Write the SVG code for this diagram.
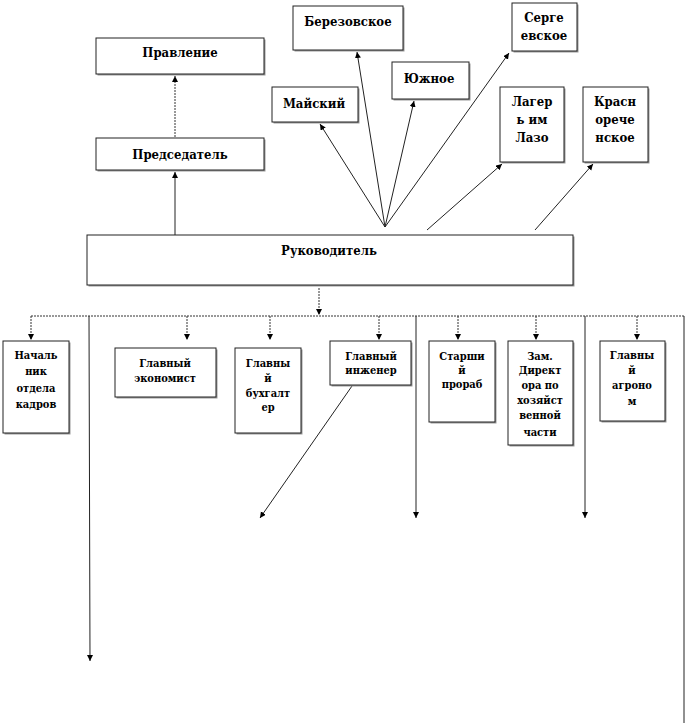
<svg xmlns="http://www.w3.org/2000/svg" width="685" height="723" viewBox="0 0 685 723">
<style>
.box{fill:#fff;stroke:#222;stroke-width:1}
.sh{fill:#9a9a9a}
text{font-family:"DejaVu Serif","Liberation Serif",serif;font-stretch:condensed;font-weight:bold;fill:#000;text-anchor:middle}
.tl{font-size:13px}
.ts{font-size:11px}
.ln{stroke:#222;stroke-width:1;fill:none}
.dt{stroke:#333;stroke-width:1;fill:none;stroke-dasharray:2 1}
</style>
<defs>
<marker id="ah" markerWidth="7" markerHeight="7" refX="6" refY="3" orient="auto" markerUnits="userSpaceOnUse">
<path d="M0,0 L6,3 L0,6 Z" fill="#000"/>
</marker>
</defs>
<rect width="685" height="723" fill="#fff"/>

<g id="connectors">
<line class="dt" x1="175" y1="137" x2="175" y2="76" marker-end="url(#ah)"/>
<line class="ln" x1="175" y1="235" x2="175" y2="172" marker-end="url(#ah)"/>
<line class="ln" x1="385" y1="227" x2="320" y2="124" marker-end="url(#ah)"/>
<line class="ln" x1="385" y1="227" x2="357" y2="52" marker-end="url(#ah)"/>
<line class="ln" x1="385" y1="227" x2="414" y2="101" marker-end="url(#ah)"/>
<line class="ln" x1="385" y1="227" x2="509" y2="53" marker-end="url(#ah)"/>
<line class="ln" x1="427" y1="230" x2="502" y2="164" marker-end="url(#ah)"/>
<line class="ln" x1="535" y1="230" x2="593" y2="164" marker-end="url(#ah)"/>
<line class="dt" x1="319" y1="288" x2="319" y2="315" marker-end="url(#ah)"/>
<line class="dt" x1="31" y1="316" x2="684" y2="316"/>
<line class="ln" x1="684" y1="316" x2="684" y2="723"/>
<line class="dt" x1="31" y1="316" x2="31" y2="340" marker-end="url(#ah)"/>
<line class="dt" x1="187" y1="316" x2="187" y2="340" marker-end="url(#ah)"/>
<line class="dt" x1="270" y1="316" x2="270" y2="340" marker-end="url(#ah)"/>
<line class="dt" x1="379" y1="316" x2="379" y2="340" marker-end="url(#ah)"/>
<line class="dt" x1="458" y1="316" x2="458" y2="340" marker-end="url(#ah)"/>
<line class="dt" x1="536" y1="316" x2="536" y2="340" marker-end="url(#ah)"/>
<line class="dt" x1="637" y1="316" x2="637" y2="340" marker-end="url(#ah)"/>
<line class="ln" x1="89" y1="316" x2="90" y2="661" marker-end="url(#ah)"/>
<line class="ln" x1="416" y1="316" x2="416" y2="518" marker-end="url(#ah)"/>
<line class="ln" x1="585" y1="316" x2="585" y2="518" marker-end="url(#ah)"/>
<line class="ln" x1="352" y1="386" x2="260" y2="518" marker-end="url(#ah)"/>
</g>

<g id="pravlenie">
<rect class="sh" x="97.5" y="39.5" width="168" height="36"/>
<rect class="box" x="96" y="38" width="168" height="36"/>
<text class="tl" x="180" y="57">Правление</text>
</g>
<g id="predsedatel">
<rect class="sh" x="97.5" y="139.5" width="168" height="32"/>
<rect class="box" x="96" y="138" width="168" height="32"/>
<text class="tl" x="180" y="159">Председатель</text>
</g>
<g id="berezovskoe">
<rect class="sh" x="294.5" y="7.5" width="110" height="44"/>
<rect class="box" x="293" y="6" width="110" height="44"/>
<text class="tl" x="348" y="26">Березовское</text>
</g>
<g id="maysky">
<rect class="sh" x="273.5" y="88.5" width="86" height="35"/>
<rect class="box" x="272" y="87" width="86" height="35"/>
<text class="tl" x="314" y="108">Майский</text>
</g>
<g id="yuzhnoe">
<rect class="sh" x="393.5" y="63.5" width="77" height="37"/>
<rect class="box" x="392" y="62" width="77" height="37"/>
<text class="tl" x="429" y="83">Южное</text>
</g>
<g id="sergeevskoe">
<rect class="sh" x="513.5" y="4.5" width="65" height="48"/>
<rect class="box" x="512" y="3" width="65" height="48"/>
<text class="tl" x="544" y="22">Серге</text>
<text class="tl" x="544" y="40">евское</text>
</g>
<g id="lager">
<rect class="sh" x="501.5" y="88.5" width="64" height="75"/>
<rect class="box" x="500" y="87" width="64" height="75"/>
<text class="tl" x="532" y="106">Лагер</text>
<text class="tl" x="532" y="124">ь им</text>
<text class="tl" x="532" y="142">Лазо</text>
</g>
<g id="krasnorecheskoe">
<rect class="sh" x="584.5" y="88.5" width="65" height="75"/>
<rect class="box" x="583" y="87" width="65" height="75"/>
<text class="tl" x="615" y="106">Красн</text>
<text class="tl" x="615" y="124">орече</text>
<text class="tl" x="615" y="142">нское</text>
</g>
<g id="rukovoditel">
<rect class="sh" x="88.5" y="236.5" width="486" height="50"/>
<rect class="box" x="87" y="235" width="486" height="50"/>
<text class="tl" x="329" y="255">Руководитель</text>
</g>

<g id="kadry">
<rect class="sh" x="4.5" y="342.5" width="66" height="92"/>
<rect class="box" x="3" y="341" width="66" height="92"/>
<text class="ts" x="36" y="359">Началь</text>
<text class="ts" x="36" y="375">ник</text>
<text class="ts" x="36" y="392">отдела</text>
<text class="ts" x="36" y="408">кадров</text>
</g>
<g id="ekonomist">
<rect class="sh" x="116.5" y="349.5" width="101" height="49"/>
<rect class="box" x="115" y="348" width="101" height="49"/>
<text class="ts" x="165" y="367">Главный</text>
<text class="ts" x="165" y="382">экономист</text>
</g>
<g id="buhgalter">
<rect class="sh" x="236.5" y="349.5" width="66" height="85"/>
<rect class="box" x="235" y="348" width="66" height="85"/>
<text class="ts" x="268" y="367">Главны</text>
<text class="ts" x="268" y="382">й</text>
<text class="ts" x="268" y="397">бухгалт</text>
<text class="ts" x="268" y="411">ер</text>
</g>
<g id="inzhener">
<rect class="sh" x="331.5" y="342.5" width="81" height="44"/>
<rect class="box" x="330" y="341" width="81" height="44"/>
<text class="ts" x="371" y="360">Главный</text>
<text class="ts" x="371" y="374">инженер</text>
</g>
<g id="prorab">
<rect class="sh" x="430.5" y="342.5" width="66" height="81"/>
<rect class="box" x="429" y="341" width="66" height="81"/>
<text class="ts" x="462" y="360">Старши</text>
<text class="ts" x="462" y="374">й</text>
<text class="ts" x="462" y="388">прораб</text>
</g>
<g id="zamdirektora">
<rect class="sh" x="509.5" y="342.5" width="65" height="104"/>
<rect class="box" x="508" y="341" width="65" height="104"/>
<text class="ts" x="540" y="360">Зам.</text>
<text class="ts" x="540" y="374">Директ</text>
<text class="ts" x="540" y="389">ора по</text>
<text class="ts" x="540" y="404">хозяйст</text>
<text class="ts" x="540" y="419">венной</text>
<text class="ts" x="540" y="436">части</text>
</g>
<g id="agronom">
<rect class="sh" x="601.5" y="342.5" width="65" height="80"/>
<rect class="box" x="600" y="341" width="65" height="80"/>
<text class="ts" x="632" y="359">Главны</text>
<text class="ts" x="632" y="374">й</text>
<text class="ts" x="632" y="389">агроно</text>
<text class="ts" x="632" y="405">м</text>
</g>
</svg>
